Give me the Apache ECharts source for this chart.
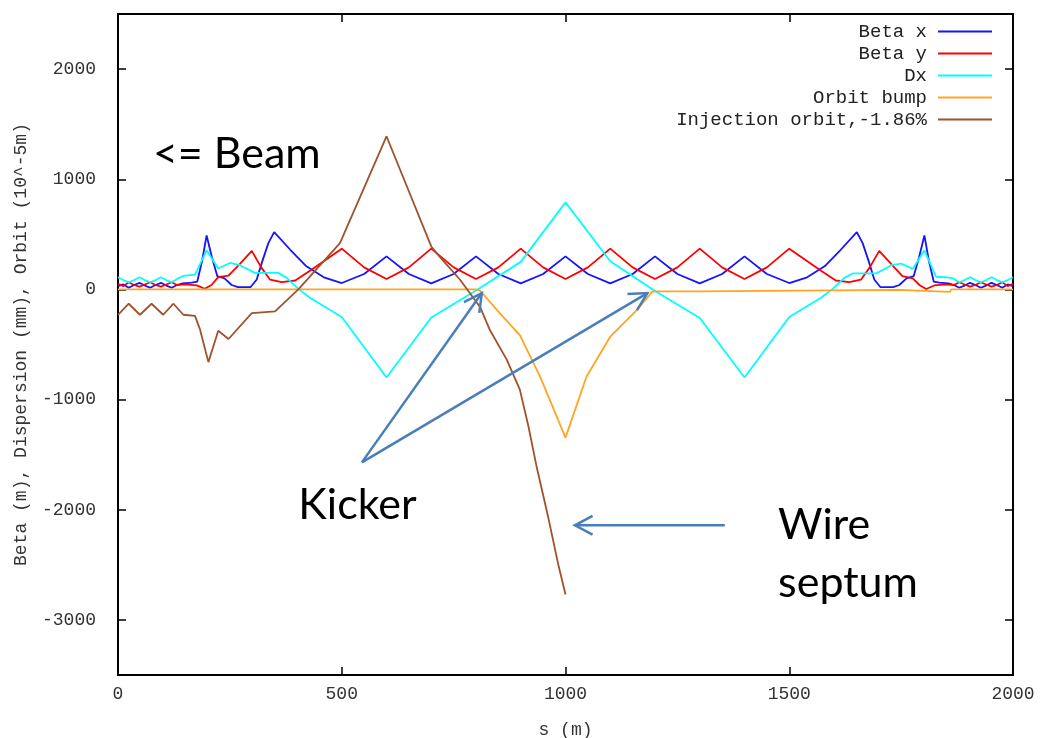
<!DOCTYPE html>
<html><head><meta charset="utf-8">
<script src="https://cdn.jsdelivr.net/npm/echarts@6/dist/echarts.min.js"></script>
<style>html,body{margin:0;padding:0;background:#fff}#c{width:1044px;height:738px}</style>
</head><body><div id="c"></div>
<script>
const seriesNames = ['Beta x', 'Beta y', 'Dx', 'Orbit bump', 'Injection orbit,-1.86%'];
const seriesColors = ['#1414ff', '#ff0000', '#00ffff', '#ffa520', '#a0522d'];

const betaX = [[0,30],[12,45],[24,15],[36,40],[48,60],[60,35],[72,15],[84,40],[96,60],[108,35],[120,15],[132,40],[144,55],[165,62],[177,70],[188,260],[198,490],[210,290],[222,120],[238,100],[254,40],[268,20],[296,20],[310,90],[322,250],[336,420],[349,520],[385,360],[421,210],[460,110],[500,58],[550,140],[600,300],[650,140],[700,55],[750,140],[800,300],[850,140],[900,55],[950,140],[1000,300],[1050,140],[1100,55],[1150,140],[1200,300],[1250,140],[1300,55],[1350,140],[1400,300],[1450,140],[1500,58],[1540,110],[1579,210],[1615,360],[1651,520],[1664,420],[1678,250],[1690,90],[1704,20],[1732,20],[1746,40],[1762,100],[1778,120],[1790,290],[1802,490],[1812,260],[1823,70],[1835,62],[1856,55],[1868,40],[1880,15],[1892,35],[1904,60],[1916,40],[1928,15],[1940,35],[1952,60],[1964,40],[1976,15],[1988,45],[2000,30]];

const betaY = [[0,50],[12,30],[24,65],[36,40],[48,25],[60,45],[72,65],[84,40],[96,25],[108,45],[120,65],[132,40],[150,45],[176,36],[194,6],[209,40],[224,111],[247,126],[273,235],[299,350],[320,200],[340,88],[366,66],[396,81],[429,170],[500,370],[550,200],[600,95],[650,200],[700,370],[750,200],[800,95],[850,200],[900,370],[950,200],[1000,95],[1050,200],[1100,370],[1150,200],[1200,95],[1250,200],[1300,370],[1350,200],[1400,95],[1450,200],[1500,370],[1571,170],[1604,81],[1634,66],[1660,88],[1680,200],[1701,350],[1727,235],[1753,120],[1776,100],[1791,40],[1806,4],[1824,36],[1850,45],[1868,40],[1880,65],[1892,45],[1904,25],[1916,40],[1928,65],[1940,45],[1952,25],[1964,40],[1976,65],[1988,30],[2000,50]];

const dispersionX = [[0,110],[12,85],[24,65],[36,85],[48,110],[60,85],[72,65],[84,85],[96,110],[108,85],[120,65],[134,100],[146,122],[172,135],[198,355],[224,190],[250,240],[272,220],[306,150],[358,150],[377,105],[403,5],[429,-75],[500,-250],[600,-800],[700,-255],[800,-10],[900,250],[1000,790],[1100,255],[1200,-15],[1300,-260],[1400,-800],[1500,-250],[1571,-75],[1597,5],[1623,105],[1642,145],[1694,145],[1728,220],[1750,235],[1776,186],[1802,355],[1828,115],[1854,110],[1866,100],[1880,65],[1892,85],[1904,110],[1916,85],[1928,65],[1940,85],[1952,110],[1964,85],[1976,65],[1988,85],[2000,110]];

const orbitBump = [[0,0],[800,0],[809,-10],[854,-219],[898,-414],[943,-790],[1000,-1345],[1047,-790],[1100,-429],[1159,-189],[1193,-24],[1200,-18],[1293,-18],[1296,-4],[1745,-4],[1748,-22],[1859,-22],[1862,0],[2000,0]];

const injectionOrbit = [[0,-230],[24,-130],[49,-230],[75,-130],[101,-230],[124,-130],[146,-230],[172,-240],[183,-360],[202,-660],[224,-375],[247,-450],[299,-215],[351,-200],[403,0],[496,420],[600,1390],[700,390],[720,291],[764,90],[809,-159],[831,-369],[869,-640],[898,-910],[917,-1240],[935,-1600],[962,-2080],[984,-2500],[1000,-2770]];

const xTicks = [0, 500, 1000, 1500, 2000];
const yTicks = [-3000, -2000, -1000, 0, 1000, 2000];
const xLabel = 's (m)';
const yLabel = 'Beta (m), Dispersion (mm), Orbit (10^-5m)';

// annotations (data coordinates)
const noteTexts = [
  {text: '<= Beam', at: [78, 1230]},
  {text: 'Kicker', at: [403, -1955]},
  {text: 'Wire', at: [1475, -2140]},
  {text: 'septum', at: [1475, -2670]}
];
const noteArrows = [
  {from: [545, -1570], to: [813, -33]},
  {from: [545, -1570], to: [1183, -33]},
  {from: [1356, -2141], to: [1021, -2141]}
];

const allData = [betaX, betaY, dispersionX, orbitBump, injectionOrbit];
const monoFont = 'Liberation Mono';

const chart = echarts.init(document.getElementById('c'), null, {renderer: 'canvas'});
const axisLineStyle = {color: '#000', width: 2};
const tickStyle = {color: '#000', width: 1.5};
const plainNum = v => String(v);

const option = {
  animation: false,
  backgroundColor: '#fff',
  grid: {left: 118, right: 31, top: 14, bottom: 63, containLabel: false, outerBoundsMode: 'none'},
  legend: {
    orient: 'vertical', right: 52, top: 22, align: 'right', padding: 0,
    itemWidth: 54, itemHeight: 2, itemGap: 3, icon: 'rect', selectedMode: false,
    textStyle: {fontFamily: monoFont, fontSize: 19, color: '#222', lineHeight: 18, padding: [0, 6, 0, 0]},
    data: seriesNames
  },
  xAxis: [
    {type: 'value', min: 0, max: 2000, interval: 500, position: 'bottom',
     axisLine: {onZero: false, lineStyle: axisLineStyle},
     axisTick: {inside: true, length: 8, lineStyle: tickStyle, customValues: xTicks},
     axisLabel: {customValues: xTicks, formatter: plainNum, color: '#333', fontFamily: monoFont, fontSize: 18, margin: 10},
     splitLine: {show: false},
     name: xLabel, nameLocation: 'middle', nameGap: 46,
     nameTextStyle: {fontFamily: monoFont, fontSize: 18, color: '#333'}},
    {type: 'value', min: 0, max: 2000, interval: 500, position: 'top',
     axisLine: {onZero: false, lineStyle: axisLineStyle},
     axisTick: {inside: true, length: 8, lineStyle: tickStyle, customValues: xTicks},
     axisLabel: {show: false}, splitLine: {show: false}}
  ],
  yAxis: [
    {type: 'value', min: -3500, max: 2500, position: 'left',
     axisLine: {onZero: false, lineStyle: axisLineStyle},
     axisTick: {inside: true, length: 8, lineStyle: tickStyle, customValues: yTicks},
     axisLabel: {customValues: yTicks, formatter: plainNum, color: '#333', fontFamily: monoFont, fontSize: 18, margin: 22},
     splitLine: {show: false},
     name: yLabel, nameLocation: 'middle', nameGap: 88, nameRotate: 90,
     nameTextStyle: {fontFamily: monoFont, fontSize: 18, color: '#333'}},
    {type: 'value', min: -3500, max: 2500, position: 'right',
     axisLine: {onZero: false, lineStyle: axisLineStyle},
     axisTick: {inside: true, length: 8, lineStyle: tickStyle, customValues: yTicks},
     axisLabel: {show: false}, splitLine: {show: false}}
  ],
  series: seriesNames.map((n, i) => ({
    name: n, type: 'line', data: allData[i], xAxisIndex: 0, yAxisIndex: 0,
    showSymbol: false, symbol: 'none', color: seriesColors[i],
    lineStyle: {width: 1.8, color: seriesColors[i]}, z: 2 + i
  }))
};
chart.setOption(option);

const arrowColor = '#4a7ebb';
const graphics = [];
noteArrows.forEach(a => {
  const p0 = chart.convertToPixel({gridIndex: 0}, a.from);
  const p1 = chart.convertToPixel({gridIndex: 0}, a.to);
  const dx = p1[0] - p0[0], dy = p1[1] - p0[1];
  const len = Math.hypot(dx, dy);
  const ux = dx / len, uy = dy / len;
  const L = 20, ang = 28 * Math.PI / 180;
  const arm = s => [p1[0] - L * (ux * Math.cos(ang) - s * uy * Math.sin(ang)),
                    p1[1] - L * (uy * Math.cos(ang) + s * ux * Math.sin(ang))];
  graphics.push({type: 'polyline', z: 100, shape: {points: [p0, p1]},
    style: {stroke: arrowColor, lineWidth: 2.5, fill: null}});
  graphics.push({type: 'polyline', z: 100, shape: {points: [arm(1), p1, arm(-1)]},
    style: {stroke: arrowColor, lineWidth: 2.5, fill: null, lineJoin: 'miter'}});
});
noteTexts.forEach(t => {
  const p = chart.convertToPixel({gridIndex: 0}, t.at);
  graphics.push({type: 'text', z: 100, x: p[0], y: p[1],
    style: {text: t.text, fontFamily: 'Lato', fontSize: 43, fill: '#000', align: 'left', verticalAlign: 'middle'}});
});
chart.setOption({graphic: graphics});
</script>
</body></html>
